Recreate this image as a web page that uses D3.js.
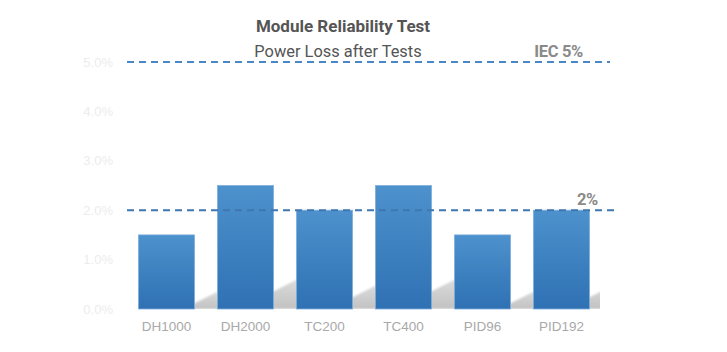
<!DOCTYPE html>
<html>
<head>
<meta charset="utf-8">
<script src="https://cdn.jsdelivr.net/npm/d3@7"></script>
<style>
  body { margin: 0; background: #fff; }
  svg { display: block; }
</style>
</head>
<body>
<script>
// data
const tests = ["DH1000", "DH2000", "TC200", "TC400", "PID96", "PID192"];
const powerLoss = [1.5, 2.5, 2.0, 2.5, 1.5, 2.0];
const yTicks = [0, 1, 2, 3, 4, 5];
const limitValues = [5, 2];
const limitLabels = ["IEC 5%", "2%"];

// label end positions (px inside the chart area) for the limit labels
const limitLabelX = [456, 471];

const canvWidth = 727, canvHeight = 352;
const margin = {top: 62, right: 126, bottom: 43, left: 127};
const width = canvWidth - margin.left - margin.right;
const height = canvHeight - margin.top - margin.bottom;

const svg = d3.select("body").append("svg")
  .attr("width", canvWidth)
  .attr("height", canvHeight);

const defs = svg.append("defs");
const grad = defs.append("linearGradient")
  .attr("id", "barGrad").attr("x1", 0).attr("y1", 0).attr("x2", 0).attr("y2", 1);
grad.append("stop").attr("offset", "0%").attr("stop-color", "#4d91cd");
grad.append("stop").attr("offset", "100%").attr("stop-color", "#2f71b3");

const sgrad = defs.append("linearGradient")
  .attr("id", "shadowGrad").attr("x1", 0).attr("y1", 0).attr("x2", 0).attr("y2", 1);
sgrad.append("stop").attr("offset", "0%").attr("stop-color", "#dadada");
sgrad.append("stop").attr("offset", "100%").attr("stop-color", "#c2c2c2");

defs.append("filter").attr("id", "blur")
  .attr("x", "-20%").attr("y", "-20%").attr("width", "140%").attr("height", "140%")
  .append("feGaussianBlur").attr("stdDeviation", 1.3);

defs.append("clipPath").attr("id", "plotClip")
  .append("rect").attr("x", 0).attr("y", 0).attr("width", width - 1).attr("height", height);

const g = svg.append("g")
  .attr("transform", `translate(${margin.left},${margin.top})`);

// scales
const xScale = d3.scaleBand().domain(tests).range([0, width]).paddingInner(0.29).paddingOuter(0.145);
const yScale = d3.scaleLinear().domain([0, 5]).range([height, 0]);

// titles
svg.append("text")
  .attr("x", 343).attr("y", 32)
  .attr("text-anchor", "middle")
  .attr("font-family", "Roboto, sans-serif")
  .attr("font-weight", "bold")
  .attr("font-size", 17)
  .attr("fill", "#555")
  .text("Module Reliability Test");

svg.append("text")
  .attr("x", 338).attr("y", 57)
  .attr("text-anchor", "middle")
  .attr("font-family", "Roboto, sans-serif")
  .attr("font-size", 16.4)
  .attr("fill", "#555")
  .text("Power Loss after Tests");

// y axis
const yAxis = d3.axisLeft(yScale).tickValues(yTicks)
  .tickFormat(d => d.toFixed(1) + "%").tickSize(0).tickPadding(14);
g.append("g").attr("id", "y-axis").call(yAxis)
  .call(a => a.select(".domain").remove())
  .selectAll("text")
  .attr("font-family", "Liberation Sans, Arial, sans-serif")
  .attr("font-size", 13)
  .attr("fill", "#ececec");

// x axis
const xAxis = d3.axisBottom(xScale).tickSize(0).tickPadding(12);
g.append("g").attr("id", "x-axis")
  .attr("transform", `translate(0,${height})`)
  .call(xAxis)
  .call(a => a.select(".domain").remove())
  .selectAll("text")
  .attr("font-family", "Liberation Sans, Arial, sans-serif")
  .attr("font-size", 13.5)
  .attr("fill", "#a9a9a9");

// shadows (cast to the right behind each bar)
const bw = xScale.bandwidth();
g.append("g").attr("clip-path", "url(#plotClip)")
  .selectAll(".shadow")
  .data(tests)
  .enter().append("path")
  .attr("class", "shadow")
  .attr("filter", "url(#blur)")
  .attr("fill", "url(#shadowGrad)")
  .attr("d", (d, i) => {
    const x0 = xScale(d), yb = yScale(0);
    const H = yb - yScale(powerLoss[i]);
    const hs = 0.24 * H;
    const tx = x0 + bw + 24;
    const bx = tx - 2 * hs;
    return `M${bx},${yb} L${tx},${yb - hs} L${x0 + bw + 45},${yb - hs} L${x0 + bw + 45},${yb} Z`;
  });

// bars
g.selectAll(".bar")
  .data(tests)
  .enter().append("rect")
  .attr("class", "bar")
  .attr("x", d => xScale(d))
  .attr("y", (d, i) => yScale(powerLoss[i]))
  .attr("width", bw)
  .attr("height", (d, i) => yScale(0) - yScale(powerLoss[i]))
  .attr("fill", "url(#barGrad)")
  .attr("stroke", "#7fb0de")
  .attr("stroke-width", 0.8);

// limit lines
g.selectAll(".limit")
  .data(limitValues)
  .enter().append("line")
  .attr("class", "limit")
  .attr("x1", 0)
  .attr("x2", (d, i) => i === 0 ? 483 : 487)
  .attr("y1", d => yScale(d))
  .attr("y2", d => yScale(d))
  .attr("stroke", (d, i) => i === 0 ? "#4a87c6" : "#3f77b0")
  .attr("stroke-width", 2)
  .attr("stroke-dasharray", "7,5");

g.selectAll(".limit-label")
  .data(limitValues)
  .enter().append("text")
  .attr("class", "limit-label")
  .attr("x", (d, i) => limitLabelX[i])
  .attr("y", d => yScale(d) - 5)
  .attr("text-anchor", "end")
  .attr("font-family", "Roboto, sans-serif")
  .attr("font-weight", "bold")
  .attr("font-size", 16.5)
  .attr("letter-spacing", -0.3)
  .attr("fill", "#8a8a8a")
  .text((d, i) => limitLabels[i]);
</script>
</body>
</html>
